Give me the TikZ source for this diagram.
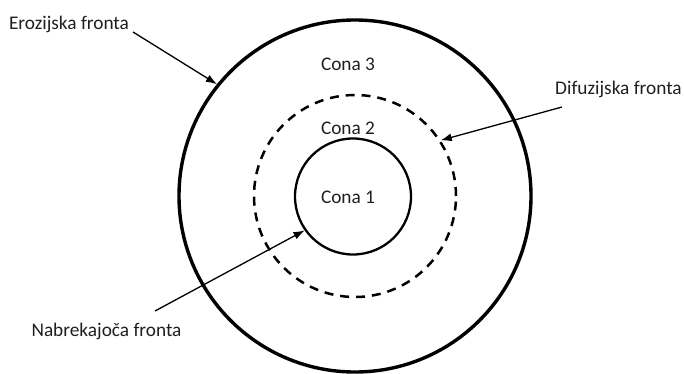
\documentclass[tikz,border=0pt]{standalone}
\usepackage{fontspec}
\setmainfont{Carlito}
\usetikzlibrary{arrows.meta}
\begin{document}
\begin{tikzpicture}[x=1pt,y=-1pt,
  lbl/.style={font=\fontsize{19.3}{22}\selectfont, inner sep=0pt, text=black!88},
  ring/.style={draw, circle, inner sep=0pt},
  arr/.style={line width=1.3pt, -{Latex[length=11pt,width=8pt]}}]
\useasboundingbox (0,0) rectangle (684,374);
\node[ring, line width=3.4pt, minimum size=352pt] (outer) at (355,196) {};
\node[ring, line width=2.5pt, dash pattern=on 9pt off 6.9pt, minimum size=202pt] (mid) at (355,196) {};
\node[ring, line width=2.3pt, minimum size=116pt] (inner) at (353,196.5) {};
\node[lbl] (c3) at (348,64) {Cona 3};
\node[lbl] (c2) at (348,128) {Cona 2};
\node[lbl] (c1) at (348,197) {Cona 1};
\node[lbl] (ero) at (69,24) {Erozijska fronta};
\node[lbl] (dif) at (618.5,89) {Difuzijska fronta};
\node[lbl] (nab) at (106.5,331) {Nabrekajoča fronta};
\coordinate (eros) at (133,32);
\coordinate (difs) at (562,107);
\coordinate (nabs) at (155,311);
\draw[arr] (eros) -- (outer.141.5);
\draw[arr] (difs) -- (mid.33.2);
\draw[arr] (nabs) -- (inner.215.6);
\end{tikzpicture}
\end{document}
